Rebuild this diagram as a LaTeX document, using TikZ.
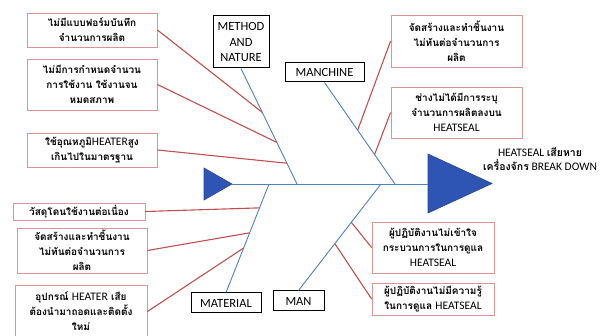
\documentclass[tikz,border=0pt]{standalone}
\usepackage{fontspec}
\setmainfont{Carlito}
\newfontfamily\thaifont[Script=Thai]{Loma}
\newcommand\lat[1]{{\rmfamily\mdseries\fontsize{11.5}{15}\selectfont #1}}
\usetikzlibrary{calc}
\definecolor{bonecol}{RGB}{79,129,189}
\definecolor{linkcol}{RGB}{192,80,77}
\definecolor{causedraw}{RGB}{217,150,148}
\definecolor{headcol}{RGB}{47,85,180}
\tikzset{
  cause/.style={draw=causedraw, line width=0.8pt, align=center, inner sep=0pt,
    font=\thaifont\bfseries\fontsize{10}{15}\selectfont},
  cat/.style={draw=black, line width=1pt, align=center, inner sep=1pt,
    font=\fontsize{12.5}{15.5}\selectfont},
  bone/.style={draw=bonecol, line width=0.9pt},
  link/.style={draw=linkcol, line width=1.1pt},
  fishhead/.style={fill=headcol, draw=headcol!80!black, line width=0.6pt}
}
\begin{document}
\begin{tikzpicture}[x=1pt, y=-1pt]
  \useasboundingbox (0,0) rectangle (608,336);
  % spine and the two triangles
  \coordinate (tail) at (232,184);
  \coordinate (head) at (428,184);
  \filldraw[fishhead] (tail) -- ++(-28,-16) -- ++(0,32) -- cycle;
  \filldraw[fishhead] (head) ++(0,-30) -- ++(64,29.5) -- ++(-64,29.5) -- cycle;
  \draw[bone] (tail) -- (head);
  \node[font=\fontsize{11.5}{14.5}\selectfont, align=center] (effect) at (540,159)
    {HEATSEAL {\thaifont\bfseries\fontsize{10.5}{14.5}\selectfont เสียหาย}\\{\thaifont\bfseries\fontsize{10.5}{14.5}\selectfont เครื่องจักร} BREAK DOWN};

  % categories
  \node[cat, minimum width=56pt, minimum height=52pt] (method) at (241,42) {METHOD\\AND\\NATURE};
  \node[cat, minimum width=79pt, minimum height=19pt] (machine) at (324.5,72.5) {MANCHINE};
  \node[cat, minimum width=70pt, minimum height=20pt] (material) at (226,303) {MATERIAL};
  \node[cat, minimum width=51pt, minimum height=20pt] (man) at (298.5,301) {MAN};
  \coordinate (jmethod) at (297,184);
  \coordinate (jmachine) at (395,184);
  \coordinate (jmaterial) at (269,184);
  \coordinate (jman) at (381,184);
  \draw[bone] (method.south) -- (jmethod);
  \draw[bone] (machine.south) -- (jmachine);
  \draw[bone] (material.north) -- (jmaterial);
  \draw[bone] (man.north) -- (jman);

  % causes
  \node[cause, minimum width=130pt, minimum height=34pt] (c1) at (92,30)
    {ไม่มีแบบฟอร์มบันทึก\\จำนวนการผลิต};
  \node[cause, minimum width=130pt, minimum height=51pt] (c2) at (92,84.5)
    {ไม่มีการกำหนดจำนวน\\การใช้งาน ใช้งานจน\\หมดสภาพ};
  \node[cause, minimum width=130pt, minimum height=34pt] (c3) at (92,150)
    {ใช้อุณหภูมิ\lat{HEATER}สูง\\เกินไปในมาตรฐาน};
  \node[cause, minimum width=132pt, minimum height=17pt] (c4) at (79,211.5)
    {วัสดุโดนใช้งานต่อเนื่อง};
  \node[cause, minimum width=130pt, minimum height=45pt] (c5) at (82,250.5)
    {จัดสร้างและทำชิ้นงาน\\ไม่ทันต่อจำนวนการ\\ผลิต};
  \node[cause, minimum width=132pt, minimum height=53pt] (c6) at (81,311.5)
    {อุปกรณ์ \lat{HEATER} เสีย\\ต้องนำมาถอดและติดตั้ง\\ใหม่};
  \node[cause, minimum width=131pt, minimum height=52pt] (c7) at (456.5,41)
    {จัดสร้างและทำชิ้นงาน\\ไม่ทันต่อจำนวนการ\\ผลิต};
  \node[cause, minimum width=131pt, minimum height=51pt] (c8) at (456.5,112.5)
    {ช่างไม่ได้มีการระบุ\\จำนวนการผลิตลงบน\\\lat{HEATSEAL}};
  \node[cause, minimum width=122pt, minimum height=51pt] (c9) at (433,247.5)
    {ผู้ปฏิบัติงานไม่เข้าใจ\\กระบวนการในการดูแล\\\lat{HEATSEAL}};
  \node[cause, minimum width=122pt, minimum height=32pt] (c10) at (433,299)
    {ผู้ปฏิบัติงานไม่มีความรู้\\ในการดูแล \lat{HEATSEAL}};

  \coordinate (p1) at ($(method.south)!0.38!(jmethod)$);
  \coordinate (p2) at ($(method.south)!0.64!(jmethod)$);
  \coordinate (p3) at ($(method.south)!0.82!(jmethod)$);
  \coordinate (p4) at ($(material.north)!0.78!(jmaterial)$);
  \coordinate (p5) at ($(material.north)!0.55!(jmaterial)$);
  \coordinate (p6) at ($(material.north)!0.41!(jmaterial)$);
  \coordinate (p7) at ($(machine.south)!0.47!(jmachine)$);
  \coordinate (p8) at ($(machine.south)!0.71!(jmachine)$);
  \coordinate (p9) at ($(man.north)!0.64!(jman)$);
  \coordinate (p10) at ($(man.north)!0.44!(jman)$);
  \draw[link] (c1.east) -- (p1);
  \draw[link] (c2.east) -- (p2);
  \draw[link] (c3.east) -- (p3);
  \draw[link] (c4.east) -- (p4);
  \draw[link] (c5.east) -- (p5);
  \draw[link] (c6.east) -- (p6);
  \draw[link] (c7.west) -- (p7);
  \draw[link] (c8.west) -- (p8);
  \draw[link] (c9.west) -- (p9);
  \draw[link] (c10.west) -- (p10);
\end{tikzpicture}
\end{document}
